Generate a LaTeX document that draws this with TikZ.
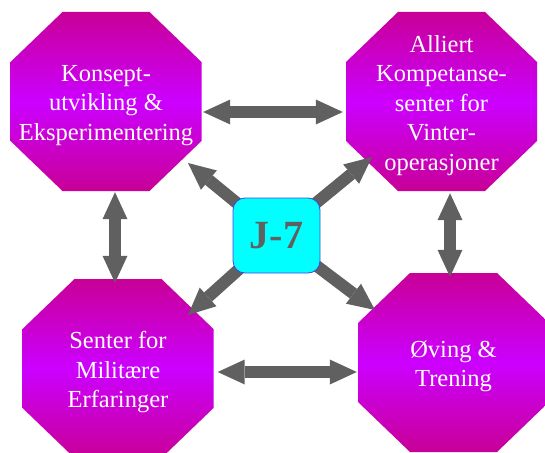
\documentclass[tikz,border=0pt]{standalone}
\usepackage{fontspec}
\setmainfont{Liberation Serif}
\usetikzlibrary{arrows.meta}
\pgfdeclarelayer{bg}
\pgfsetlayers{bg,main}
\definecolor{octtop}{RGB}{200,0,150}
\definecolor{octmid}{RGB}{204,0,255}
\definecolor{arrgray}{RGB}{96,96,96}
\definecolor{jborder}{RGB}{70,70,230}
\definecolor{jfill}{RGB}{0,255,255}
\tikzset{
  octtext/.style={rectangle, minimum width=191pt, minimum height=179pt, inner sep=0pt,
    text=white, align=center, font=\fontsize{24.5}{29.5}\selectfont, yshift=-4pt},
  octfill/.style={top color=octtop, bottom color=octtop, middle color=octmid},
  bigtip/.tip={Triangle[length=27pt,width=25pt,line width=0pt]},
  blk/.style={draw=arrgray, line width=12pt},
  onearrow/.style={blk, -bigtip},
  twoarrow/.style={blk, bigtip-bigtip},
  jbox/.style={rectangle, rounded corners=12pt, minimum width=87pt, minimum height=75pt,
    fill=jfill, draw=jborder, line width=0.8pt, text=arrgray,
    font=\bfseries\fontsize{40}{40}\selectfont}
}
\newcommand\octshape[1]{%
  \shade[octfill] ([yshift=4pt]#1.center) ++(-43.5,-89.5) -- ++(87,0) -- ++(52,50) -- ++(0,79)
    -- ++(-52,50) -- ++(-87,0) -- ++(-52,-50) -- ++(0,-79) -- cycle;}
\begin{document}
\begin{tikzpicture}[x=1pt,y=-1pt]
\useasboundingbox (0,0) rectangle (545,452);
\node[octtext] (o1) at (106,101.5) {Konsept-\\utvikling \&\\Eksperimentering};
\node[octtext] (o2) at (441.5,101.5) {Alliert\\Kompetanse-\\senter for\\Vinter-\\operasjoner};
\node[octtext] (o3) at (118,368.5) {Senter for\\Militære\\Erfaringer};
\node[octtext] (o4) at (453.5,362.5) {Øving \&\\Trening};
\node[jbox] (j7) at (276.5,235.5) {J-7};
\coordinate (xl) at (115,0);
\coordinate (xr) at (450,0);
\coordinate (yt) at (0,112);
\coordinate (yb) at (0,372);
\coordinate (t1) at (188,163);
\coordinate (t2) at (372,157);
\coordinate (t3) at (188,315);
\coordinate (t4) at (375,310);
\begin{pgfonlayer}{bg}
  \octshape{o1}
  \octshape{o2}
  \octshape{o3}
  \octshape{o4}
  \draw[twoarrow, shorten <=1.5pt, shorten >=3pt] (o1.east |- yt) -- (o2.west |- yt);
  \draw[twoarrow, shorten <=4pt, shorten >=1pt] (o3.east |- yb) -- (o4.west |- yb);
  \draw[twoarrow, shorten <=-3pt, shorten >=0pt] (o1.south -| xl) -- (o3.north -| xl);
  \draw[twoarrow, shorten <=-2pt, shorten >=0pt] (o2.south -| xr) -- (o4.north -| xr);
  \draw[onearrow] (j7.center) -- (t1);
  \draw[onearrow] (j7.center) -- (t2);
  \draw[onearrow] (j7.center) -- (t3);
  \draw[onearrow] (j7.center) -- (t4);
\end{pgfonlayer}
\end{tikzpicture}
\end{document}
